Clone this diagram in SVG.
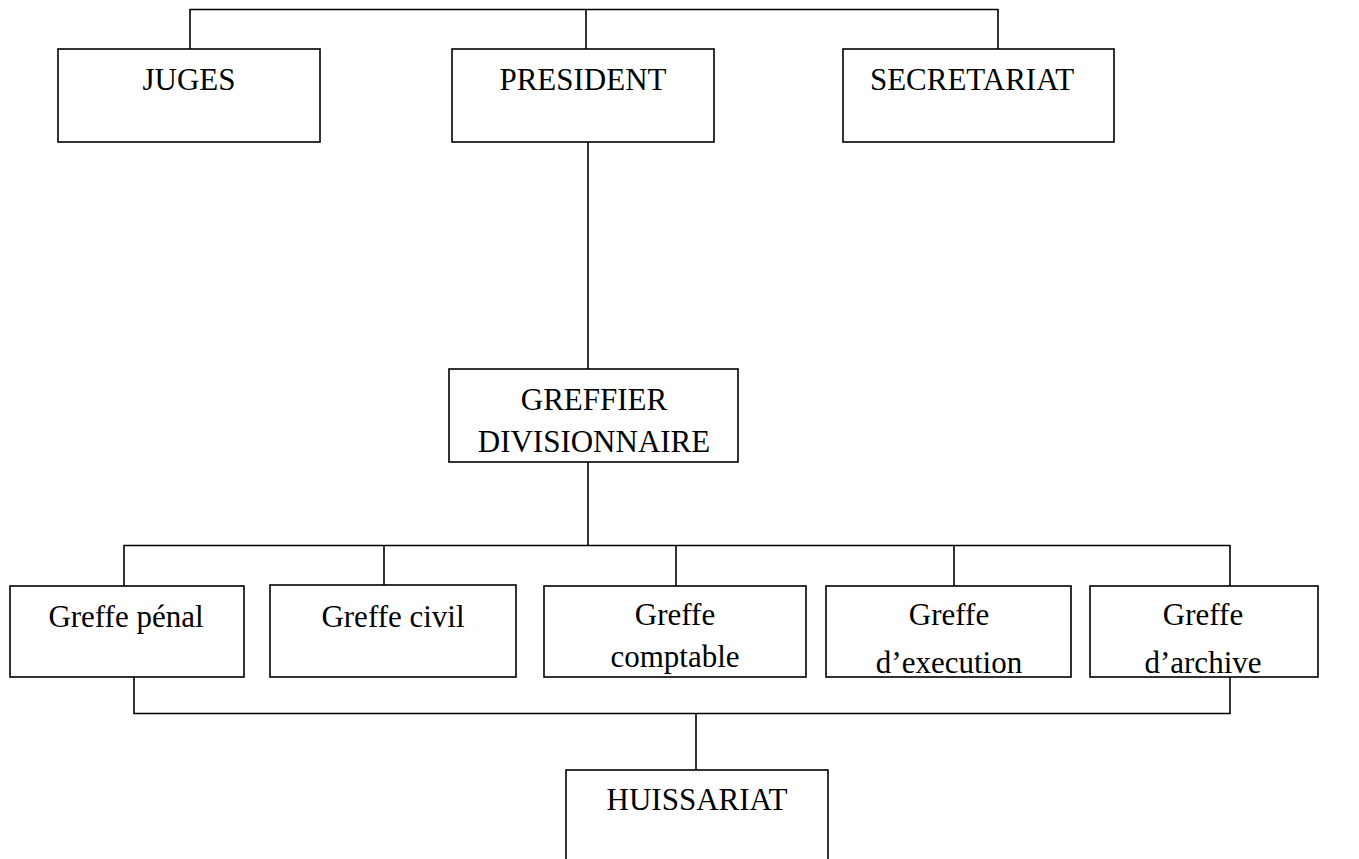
<svg xmlns="http://www.w3.org/2000/svg" width="1359" height="859" viewBox="0 0 1359 859">
<style>
.box{fill:#fff;stroke:#000;stroke-width:1.6}
.ln{fill:none;stroke:#000;stroke-width:1.6}
text{font-family:"Liberation Serif","Times New Roman",serif;font-size:31px;fill:#000;text-anchor:middle}
</style>
<rect width="1359" height="859" fill="#fff"/>
<g id="connectors">
<path class="ln" d="M190 49V9.5H998V49"/>
<path class="ln" d="M586 9.5V49"/>
<path class="ln" d="M588 142V369"/>
<path class="ln" d="M588 462V545.5"/>
<path class="ln" d="M124 586V545.5H1230V586"/>
<path class="ln" d="M384 545.5V585"/>
<path class="ln" d="M676 545.5V586"/>
<path class="ln" d="M954 545.5V586"/>
<path class="ln" d="M134 677V713.5H1230V677"/>
<path class="ln" d="M696 713.5V770"/>
</g>
<g id="juges"><rect class="box" x="58" y="49" width="262" height="93"/><text x="189" y="90">JUGES</text></g>
<g id="president"><rect class="box" x="452" y="49" width="262" height="93"/><text x="583" y="90">PRESIDENT</text></g>
<g id="secretariat"><rect class="box" x="843" y="49" width="271" height="93"/><text x="972" y="90">SECRETARIAT</text></g>
<g id="greffier"><rect class="box" x="449" y="369" width="289" height="93"/><text x="594" y="410">GREFFIER</text><text x="594" y="452">DIVISIONNAIRE</text></g>
<g id="penal"><rect class="box" x="10" y="586" width="234" height="91"/><text x="126" y="627">Greffe pénal</text></g>
<g id="civil"><rect class="box" x="270" y="585" width="246" height="92"/><text x="393" y="627">Greffe civil</text></g>
<g id="comptable"><rect class="box" x="544" y="586" width="262" height="91"/><text x="675" y="625">Greffe</text><text x="675" y="667">comptable</text></g>
<g id="execution"><rect class="box" x="826" y="586" width="245" height="91"/><text x="949" y="625">Greffe</text><text x="949" y="673">d’execution</text></g>
<g id="archive"><rect class="box" x="1090" y="586" width="228" height="91"/><text x="1203" y="625">Greffe</text><text x="1203" y="673">d’archive</text></g>
<g id="huissariat"><rect class="box" x="566" y="770" width="262" height="100"/><text x="697" y="810">HUISSARIAT</text></g>
</svg>
